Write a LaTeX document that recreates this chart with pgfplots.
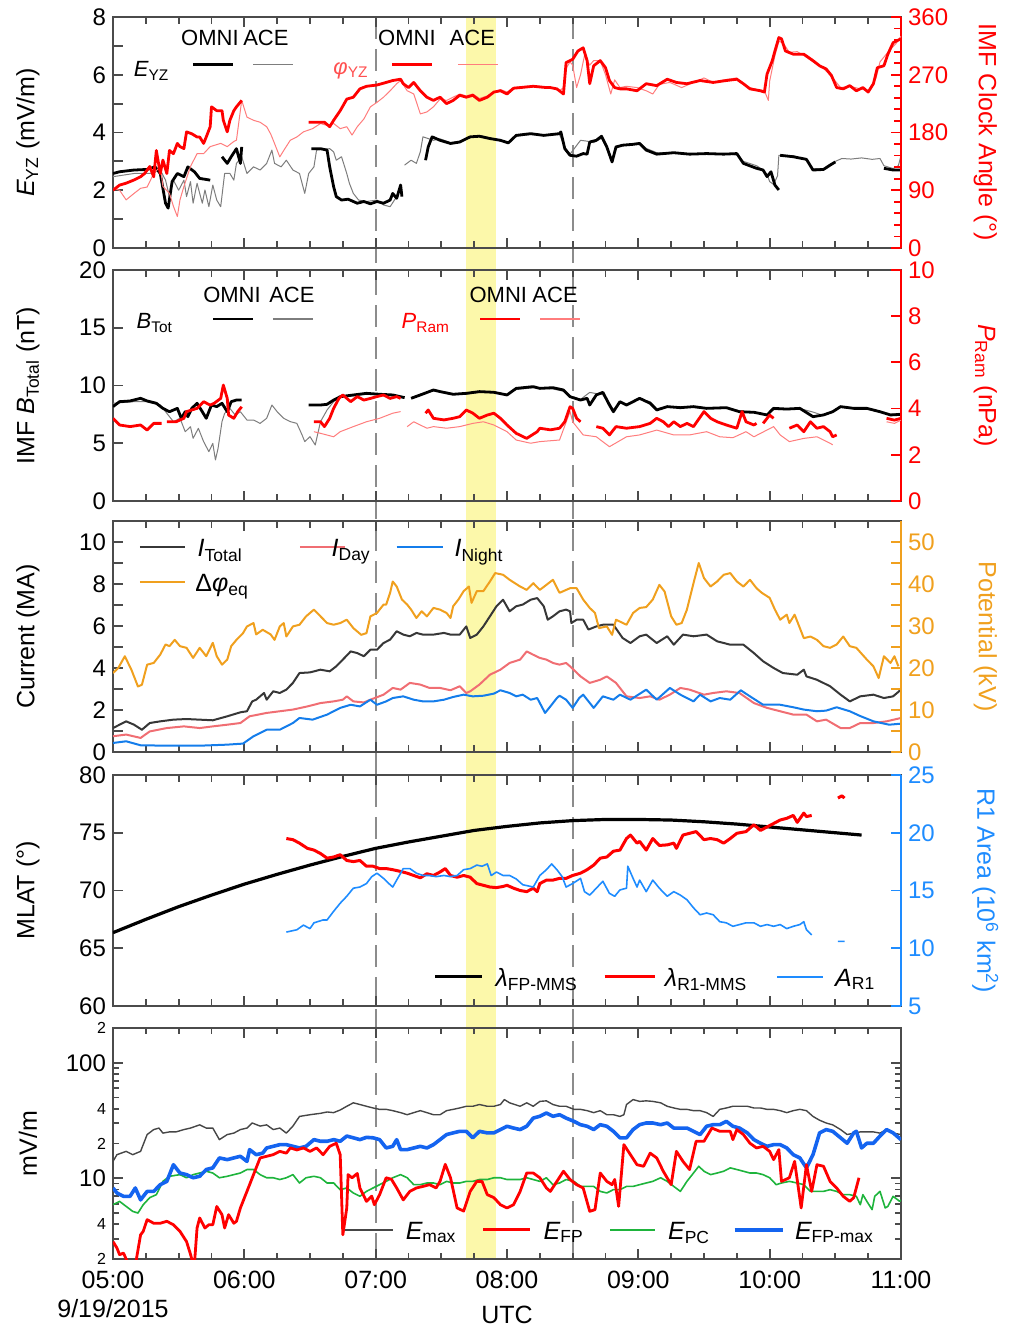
\documentclass[border=0pt]{standalone}
\usepackage{fontspec}
\setmainfont{Liberation Sans}
\usepackage{pgfplots}
\pgfplotsset{compat=1.18}
\usetikzlibrary{backgrounds}

\definecolor{framegray}{RGB}{75,75,75}
\definecolor{acegray}{RGB}{125,125,125}
\definecolor{acered}{RGB}{255,125,125}
\definecolor{phired}{RGB}{255,80,80}
\definecolor{itot}{RGB}{55,55,55}
\definecolor{iday}{RGB}{240,110,115}
\definecolor{inight}{RGB}{20,125,235}
\definecolor{potorange}{RGB}{240,160,30}
\definecolor{r1blue}{RGB}{30,140,255}
\definecolor{emax}{RGB}{70,70,70}
\definecolor{epc}{RGB}{30,180,60}
\definecolor{efpmax}{RGB}{20,100,240}
\definecolor{band}{RGB}{252,248,170}
\definecolor{dashgray}{RGB}{140,140,140}

\newcommand{\tfont}{\fontsize{12}{14}\selectfont}
\newcommand{\xfont}{\fontsize{12.5}{14}\selectfont}
\newcommand{\lfont}{\fontsize{12.5}{15}\selectfont}
\newcommand{\gfont}{\fontsize{11}{13}\selectfont}
\newcommand{\sfont}{\fontsize{8}{9}\selectfont}

\pgfplotsset{
  panel/.style={
    scale only axis, width=394pt, height=115.5pt,
    xmin=5, xmax=11,
    xtick={5,6,...,11}, minor xtick={5,5.25,...,11}, xticklabels={},
    tick align=inside, ytick pos=left,
    major tick length=5pt, minor tick length=3.5pt,
    axis line style={framegray, line width=0.9pt},
    tick style={framegray, line width=0.9pt},
    tick label style={font=\tfont},
    /pgf/number format/assume math mode=true,
    unbounded coords=jump,
    every axis plot/.append style={line join=round},
    every axis y label/.style={at={(rel axis cs:-0.108,0.5)}, rotate=90, anchor=center, font=\lfont},
  },
  twin/.style={
    scale only axis, width=394pt, height=115.5pt,
    xmin=5, xmax=11,
    axis x line=none, axis y line*=right,
    tick align=inside, major tick length=5pt, minor tick length=3.5pt,
    y axis line style={#1, line width=0.9pt},
    tick style={#1, line width=0.9pt},
    yticklabel style={#1, font=\tfont},
    /pgf/number format/assume math mode=true,
    unbounded coords=jump,
    every axis plot/.append style={line join=round},
    every axis y label/.style={at={(rel axis cs:1.107,0.5)}, rotate=-90, anchor=center, font=\lfont, text=#1},
  },
}

\begin{document}
\begin{tikzpicture}
\path[use as bounding box] (0,0) rectangle (512.5pt,664.5pt);

% ---------------- panel 1 ----------------
\begin{axis}[panel, at={(56.5pt,540.5pt)}, anchor=south west,
  ymin=0, ymax=8, ytick={0,...,8}, yticklabels={0,,2,,4,,6,,8},
  ylabel={{\itshape E}\textsubscript{YZ} (mV/m)}]
\addplot[acegray, line width=0.5pt] coordinates {
(5.00,2.47)(5.16,2.58)(5.28,2.58)(5.36,2.70)(5.40,2.35)(5.43,1.78)(5.46,2.35)(5.50,2.0)(5.54,2.35)(5.56,1.78)(5.59,2.30)(5.61,1.55)(5.64,2.24)(5.68,1.55)(5.70,2.01)(5.73,1.43)(5.76,2.18)(5.79,1.66)(5.82,1.43)(5.85,2.58)(5.89,2.58)(5.92,2.35)(5.94,2.93)(5.98,3.16)(6.02,2.58)(6.07,2.81)(6.12,2.70)(6.17,2.93)(6.21,3.39)(6.23,2.93)(6.28,2.81)(6.32,3.04)(6.37,2.70)(6.42,2.58)(6.46,1.89)(6.49,2.58)(6.53,2.81)(6.55,3.39)(6.65,3.44)(6.68,3.33)(6.70,3.04)(6.74,3.16)(6.78,2.58)(6.80,2.24)(6.83,1.89)(6.87,1.66)(6.93,1.61)(7.01,1.66)(7.06,1.49)(7.11,1.43)(7.16,1.78)(7.18,nan)
(7.22,2.87)(7.27,3.04)(7.31,2.93)(7.34,3.33)(7.36,3.85)(7.44,3.73)(7.49,3.78)(7.57,3.65)(7.64,3.70)(7.72,3.82)(7.79,3.90)(7.87,3.82)(7.95,3.70)(8.01,3.67)(8.07,3.87)(8.18,3.93)(8.28,3.93)(8.40,3.93)(8.44,3.50)(8.48,3.25)(8.53,3.55)(8.56,3.73)(8.61,3.70)(8.66,3.65)(8.72,3.80)(8.76,3.45)(8.80,3.05)(8.83,3.45)(8.88,3.56)(9.01,3.65)(9.06,3.45)(9.14,3.30)(9.27,3.28)(9.39,3.27)(9.52,3.25)(9.65,3.27)(9.75,3.22)(9.80,3.0)(9.90,2.85)(9.95,2.70)(9.98,2.55)(10.0,2.30)(10.03,2.20)(10.06,2.5)(10.07,3.21)(10.18,3.20)(10.28,3.05)(10.33,2.75)(10.41,2.75)(10.50,3.0)(10.55,3.10)(10.62,3.08)(10.70,3.12)(10.78,3.07)(10.84,3.10)(10.87,2.85)(10.94,2.75)(10.98,2.85)(11.0,3.2)};
\addplot[black, line width=1.4pt] coordinates {
(5.00,2.58)(5.05,2.64)(5.16,2.70)(5.26,2.72)(5.32,2.81)(5.36,2.58)(5.40,1.55)(5.42,1.38)(5.45,2.30)(5.49,2.58)(5.54,2.47)(5.57,2.81)(5.62,2.64)(5.66,2.41)(5.74,2.35)(5.75,nan)
(5.83,3.16)(5.87,2.93)(5.90,3.16)(5.94,3.44)(5.97,2.93)(5.98,3.50)(6.2,nan)
(6.51,3.44)(6.58,3.44)(6.63,3.39)(6.65,2.81)(6.68,2.12)(6.70,1.78)(6.74,1.66)(6.79,1.69)(6.86,1.55)(6.91,1.61)(6.96,1.53)(7.01,1.61)(7.06,1.55)(7.11,1.66)(7.13,1.89)(7.16,1.72)(7.19,2.18)(7.20,1.78)(7.3,nan)
(7.38,3.04)(7.40,3.50)(7.43,3.85)(7.49,3.73)(7.57,3.62)(7.64,3.67)(7.72,3.85)(7.79,3.87)(7.87,3.79)(7.95,3.73)(8.01,3.64)(8.07,3.90)(8.18,3.96)(8.28,3.90)(8.40,3.96)(8.41,4.02)(8.44,3.44)(8.48,3.21)(8.53,3.18)(8.58,3.27)(8.61,3.25)(8.63,3.67)(8.68,3.73)(8.72,3.87)(8.76,3.50)(8.80,2.98)(8.83,3.50)(8.88,3.56)(8.96,3.59)(9.01,3.62)(9.06,3.39)(9.14,3.25)(9.27,3.30)(9.39,3.25)(9.52,3.27)(9.65,3.25)(9.75,3.27)(9.80,2.93)(9.90,2.76)(9.95,2.70)(9.98,2.47)(10.01,2.64)(10.04,2.18)(10.07,2.01)(10.075,nan)
(10.08,3.21)(10.18,3.16)(10.28,3.07)(10.33,2.70)(10.41,2.72)(10.46,2.87)(10.50,2.98)(10.6,nan)
(10.87,2.76)(10.94,2.70)(11.00,2.70)};
\node[font=\gfont] at (rel axis cs:0.123,0.909) {OMNI};
\node[font=\gfont] at (rel axis cs:0.194,0.909) {ACE};
\node[font=\gfont] at (rel axis cs:0.049,0.767) {{\itshape E}\textsubscript{YZ}};
\draw[black, line width=1.4pt] (rel axis cs:0.1015,0.793) -- (rel axis cs:0.152,0.793);
\draw[acegray, line width=0.6pt] (rel axis cs:0.178,0.793) -- (rel axis cs:0.228,0.793);
\node[font=\gfont] at (rel axis cs:0.373,0.909) {OMNI};
\node[font=\gfont] at (rel axis cs:0.456,0.909) {ACE};
\node[font=\gfont, text=phired] at (rel axis cs:0.302,0.767) {{\itshape φ}\textsubscript{YZ}};
\draw[red, line width=1.4pt] (rel axis cs:0.354,0.793) -- (rel axis cs:0.405,0.793);
\draw[acered, line width=0.6pt] (rel axis cs:0.438,0.793) -- (rel axis cs:0.489,0.793);
\coordinate (T7) at (axis cs:7,8);
\coordinate (T85) at (axis cs:8.5,8);
\coordinate (TB) at (axis cs:7.69,8);
\end{axis}
\begin{axis}[twin=red, at={(56.5pt,540.5pt)}, anchor=south west,
  ymin=0, ymax=360, ytick={0,90,...,360}, minor ytick={0,18,...,360},
  ylabel={IMF Clock Angle (°)}]
\addplot[acered, line width=0.5pt] coordinates {
(5.00,93)(5.05,90)(5.10,75)(5.16,85)(5.21,93)(5.26,95)(5.31,116)(5.36,127)(5.38,96)(5.43,85)(5.46,65)(5.49,49)(5.51,75)(5.54,96)(5.59,127)(5.64,147)(5.69,147)(5.74,158)(5.82,163)(5.87,158)(5.92,166)(5.94,168)(5.98,230)(6.02,204)(6.07,199)(6.12,196)(6.17,189)(6.20,178)(6.22,168)(6.27,142)(6.30,152)(6.35,168)(6.40,173)(6.45,181)(6.52,186)(6.58,194)(6.63,191)(6.68,194)(6.73,186)(6.78,189)(6.82,176)(6.86,189)(6.91,201)(6.96,220)(7.01,227)(7.06,235)(7.11,245)(7.16,256)(7.19,261)(7.24,245)(7.29,240)(7.34,209)(7.39,212)(7.44,220)(7.49,232)(7.54,230)(7.59,235)(7.64,240)(7.69,237)(7.74,240)(7.79,233)(7.85,237)(7.90,243)(7.95,247)(8.00,243)(8.05,250)(8.15,252)(8.25,252)(8.33,250)(8.40,245)(8.43,250)(8.45,280)(8.48,290)(8.50,285)(8.53,250)(8.56,270)(8.59,300)(8.63,285)(8.66,292)(8.71,292)(8.75,270)(8.79,240)(8.82,262)(8.86,250)(8.91,252)(8.99,250)(9.06,245)(9.11,240)(9.16,255)(9.24,258)(9.33,250)(9.42,258)(9.50,265)(9.57,258)(9.65,262)(9.75,265)(9.82,252)(9.88,248)(9.96,245)(9.99,230)(10.00,260)(10.04,300)(10.07,322)(10.10,320)(10.15,305)(10.21,306)(10.26,300)(10.33,290)(10.41,280)(10.48,265)(10.54,250)(10.61,252)(10.69,248)(10.75,245)(10.81,265)(10.84,290)(10.88,300)(10.92,310)(10.96,318)(11.0,330)};
\addplot[red, line width=1.4pt] coordinates {
(5.00,90)(5.05,98)(5.10,101)(5.16,106)(5.21,111)(5.24,116)(5.28,127)(5.31,111)(5.33,152)(5.36,116)(5.38,137)(5.41,116)(5.43,152)(5.46,147)(5.49,163)(5.51,158)(5.54,155)(5.56,181)(5.60,178)(5.64,173)(5.66,173)(5.69,163)(5.71,173)(5.74,189)(5.75,220)(5.79,214)(5.83,214)(5.84,199)(5.87,181)(5.89,199)(5.92,214)(5.94,220)(5.98,230)(5.99,nan)
(6.49,196)(6.55,196)(6.61,196)(6.65,189)(6.68,199)(6.73,214)(6.78,232)(6.83,235)(6.88,248)(6.93,252)(7.01,254)(7.08,258)(7.13,261)(7.19,263)(7.21,256)(7.25,250)(7.29,258)(7.34,245)(7.39,235)(7.44,230)(7.49,235)(7.54,225)(7.59,230)(7.64,238)(7.69,235)(7.74,238)(7.79,230)(7.85,235)(7.90,243)(7.95,245)(8.00,240)(8.05,249)(8.10,250)(8.20,252)(8.30,250)(8.33,250)(8.38,248)(8.43,240)(8.45,289)(8.50,294)(8.54,307)(8.58,312)(8.61,292)(8.63,256)(8.66,284)(8.71,292)(8.75,281)(8.78,261)(8.82,250)(8.86,248)(8.91,248)(8.99,245)(9.06,256)(9.14,253)(9.22,263)(9.29,258)(9.37,256)(9.47,261)(9.57,258)(9.67,261)(9.75,263)(9.80,256)(9.85,248)(9.93,245)(9.96,243)(9.98,271)(10.02,292)(10.04,307)(10.07,328)(10.09,326)(10.12,307)(10.18,302)(10.26,302)(10.33,292)(10.38,284)(10.43,279)(10.47,269)(10.51,250)(10.56,248)(10.61,253)(10.66,245)(10.71,250)(10.75,243)(10.79,256)(10.82,281)(10.87,284)(10.90,302)(10.94,320)(11.00,326)};
\end{axis}

% ---------------- panel 2 ----------------
\begin{axis}[panel, at={(56.5pt,414pt)}, anchor=south west,
  ymin=0, ymax=20, ytick={0,5,...,20},
  ylabel={IMF {\itshape B}\textsubscript{Total} (nT)}]
\addplot[acegray, line width=0.5pt] coordinates {
(5.00,8.46)(5.16,8.60)(5.26,8.60)(5.36,8.31)(5.46,6.87)(5.51,7.16)(5.55,6.00)(5.59,6.43)(5.61,5.43)(5.65,6.29)(5.69,5.14)(5.73,4.27)(5.76,4.99)(5.78,3.55)(5.80,4.56)(5.83,6.87)(5.85,7.59)(5.89,8.02)(5.93,7.45)(5.97,7.73)(6.02,7.01)(6.07,7.01)(6.12,6.72)(6.17,7.16)(6.21,8.31)(6.25,7.73)(6.30,7.16)(6.35,6.87)(6.40,6.72)(6.44,5.71)(6.46,5.14)(6.50,5.57)(6.54,4.85)(6.58,6.87)(6.63,7.88)(6.68,8.60)(6.73,9.03)(6.83,9.10)(6.93,9.25)(7.03,9.2)(7.13,9.1)(7.22,8.9)(7.23,nan)
(7.27,8.95)(7.34,9.25)(7.44,9.55)(7.59,9.3)(7.69,9.25)(7.79,9.4)(7.90,9.45)(8.00,9.2)(8.07,9.65)(8.20,9.8)(8.35,9.7)(8.43,9.5)(8.48,9.1)(8.56,8.8)(8.63,9.4)(8.68,9.3)(8.73,9.2)(8.78,8.5)(8.81,7.9)(8.86,8.5)(8.91,8.4)(9.01,8.8)(9.09,8.6)(9.14,8.0)(9.22,8.1)(9.32,8.1)(9.42,8.1)(9.52,8.0)(9.67,8.1)(9.77,7.8)(9.88,7.7)(9.98,7.5)(10.03,7.9)(10.13,7.9)(10.23,8.0)(10.33,7.7)(10.41,7.4)(10.48,7.7)(10.54,8.1)(10.64,8.0)(10.74,7.95)(10.84,7.7)(10.92,7.5)(11.00,7.6)};
\addplot[black, line width=1.4pt] coordinates {
(5.00,8.17)(5.05,8.60)(5.13,8.66)(5.21,8.89)(5.26,8.66)(5.33,8.46)(5.38,8.02)(5.43,7.73)(5.49,8.02)(5.52,7.16)(5.55,7.73)(5.57,7.30)(5.60,8.02)(5.64,8.46)(5.68,7.73)(5.71,7.16)(5.75,8.31)(5.79,8.17)(5.83,8.46)(5.87,7.73)(5.90,8.60)(5.94,8.74)(5.98,8.74)(6.0,nan)
(6.49,8.31)(6.58,8.31)(6.63,8.37)(6.68,8.74)(6.73,9.03)(6.83,9.18)(6.93,9.32)(7.03,9.24)(7.13,9.18)(7.22,8.95)(7.23,nan)
(7.27,8.89)(7.34,9.18)(7.44,9.61)(7.49,9.47)(7.59,9.24)(7.69,9.32)(7.79,9.47)(7.90,9.41)(8.00,9.18)(8.07,9.75)(8.20,9.90)(8.25,9.75)(8.35,9.81)(8.43,9.61)(8.48,9.03)(8.56,8.74)(8.61,8.89)(8.63,8.31)(8.68,9.18)(8.73,9.41)(8.78,8.31)(8.81,7.73)(8.86,8.60)(8.91,8.31)(9.01,8.89)(9.09,8.46)(9.14,7.88)(9.22,8.17)(9.32,8.08)(9.42,8.17)(9.52,8.02)(9.67,8.08)(9.77,7.73)(9.88,7.68)(9.98,7.45)(10.03,8.02)(10.13,7.96)(10.23,8.02)(10.33,7.30)(10.41,7.45)(10.48,7.73)(10.54,8.17)(10.64,8.02)(10.74,8.02)(10.84,7.73)(10.92,7.45)(11.00,7.50)};
\node[font=\gfont] at (rel axis cs:0.151,0.892) {OMNI};
\node[font=\gfont] at (rel axis cs:0.227,0.892) {ACE};
\node[font=\gfont] at (rel axis cs:0.053,0.771) {{\itshape B}\textsubscript{Tot}};
\draw[black, line width=1.4pt] (rel axis cs:0.127,0.788) -- (rel axis cs:0.178,0.788);
\draw[acegray, line width=0.6pt] (rel axis cs:0.203,0.788) -- (rel axis cs:0.254,0.788);
\node[font=\gfont] at (rel axis cs:0.489,0.892) {OMNI};
\node[font=\gfont] at (rel axis cs:0.561,0.892) {ACE};
\node[font=\gfont, text=red] at (rel axis cs:0.397,0.771) {{\itshape P}\textsubscript{Ram}};
\draw[red, line width=1.4pt] (rel axis cs:0.466,0.788) -- (rel axis cs:0.516,0.788);
\draw[acered, line width=0.6pt] (rel axis cs:0.542,0.788) -- (rel axis cs:0.593,0.788);
\end{axis}
\begin{axis}[twin=red, at={(56.5pt,414pt)}, anchor=south west,
  ymin=0, ymax=10, ytick={0,2,...,10},
  ylabel={{\itshape P}\textsubscript{Ram} (nPa)}]
\addplot[acered, line width=0.5pt] coordinates {
(6.53,3.00)(6.58,2.93)(6.68,2.78)(6.73,3.00)(6.83,3.22)(6.93,3.43)(7.03,3.58)(7.13,3.80)(7.19,3.87)(7.20,nan)
(7.24,3.22)(7.29,3.43)(7.34,3.29)(7.39,3.15)(7.44,3.22)(7.54,3.15)(7.64,3.22)(7.74,3.36)(7.82,3.43)(7.90,3.29)(8.00,3.00)(8.07,2.64)(8.18,2.50)(8.25,2.57)(8.40,2.64)(8.48,3.87)(8.50,3.43)(8.58,2.86)(8.68,2.78)(8.78,2.35)(8.91,2.78)(9.01,2.86)(9.14,3.07)(9.27,2.86)(9.39,2.86)(9.52,3.00)(9.62,2.78)(9.72,2.74)(9.82,3.00)(9.88,2.78)(10.03,3.22)(10.08,2.86)(10.15,2.57)(10.26,2.71)(10.36,2.78)(10.46,2.50)(10.48,2.43)(10.49,nan)
(10.89,3.43)(10.95,3.36)(11.0,3.5)};
\addplot[red, line width=1.4pt] coordinates {
(5.00,3.58)(5.05,3.29)(5.13,3.22)(5.21,3.29)(5.26,3.07)(5.31,3.36)(5.37,3.36)(5.38,nan)
(5.41,3.43)(5.48,3.43)(5.54,3.58)(5.56,3.87)(5.64,4.01)(5.69,4.30)(5.74,4.15)(5.77,4.23)(5.82,4.44)(5.84,5.02)(5.87,4.44)(5.88,3.72)(5.92,3.58)(5.95,3.87)(5.98,4.08)(5.99,nan)
(6.53,3.43)(6.58,3.43)(6.61,3.22)(6.65,3.58)(6.68,4.01)(6.72,4.44)(6.75,4.59)(6.81,4.30)(6.86,4.52)(6.91,4.37)(6.96,4.44)(7.01,4.52)(7.06,4.59)(7.11,4.44)(7.16,4.52)(7.19,4.44)(7.20,nan)
(7.38,3.80)(7.40,3.94)(7.44,3.58)(7.52,3.51)(7.59,3.58)(7.64,3.65)(7.69,3.94)(7.74,3.80)(7.79,3.58)(7.85,3.72)(7.90,3.80)(7.95,3.58)(8.00,3.29)(8.07,2.93)(8.15,2.71)(8.23,3.00)(8.25,3.15)(8.33,3.08)(8.40,3.15)(8.44,3.43)(8.48,4.08)(8.50,4.01)(8.53,3.58)(8.56,3.43)(8.57,nan)
(8.68,3.22)(8.73,3.15)(8.78,2.86)(8.83,3.22)(8.91,3.15)(9.01,3.22)(9.09,3.36)(9.14,3.58)(9.19,3.43)(9.23,3.22)(9.27,3.43)(9.32,3.22)(9.37,3.36)(9.42,3.22)(9.50,3.87)(9.55,3.58)(9.60,3.43)(9.67,3.29)(9.75,3.15)(9.79,3.87)(9.82,3.43)(9.88,3.29)(9.90,3.36)(9.91,nan)
(9.95,3.36)(10.00,3.72)(10.03,3.58)(10.04,nan)
(10.15,3.15)(10.21,3.29)(10.26,3.00)(10.31,3.43)(10.36,3.15)(10.41,3.22)(10.46,3.00)(10.48,2.78)(10.51,2.86)(10.52,nan)
(10.89,3.58)(10.95,3.50)(11.0,3.58)};
\end{axis}

% ---------------- panel 3 ----------------
\begin{axis}[panel, at={(56.5pt,288.5pt)}, anchor=south west,
  ymin=0, ymax=11, ytick={0,...,10}, yticklabels={0,,2,,4,,6,,8,,10},
  ylabel={Current (MA)}]
\addplot[itot, line width=1pt] coordinates {
(5.00,1.14)(5.05,1.30)(5.10,1.46)(5.16,1.30)(5.22,1.06)(5.28,1.38)(5.36,1.46)(5.46,1.54)(5.56,1.57)(5.66,1.54)(5.76,1.51)(5.87,1.70)(5.97,1.89)(6.02,1.94)(6.06,2.41)(6.09,2.49)(6.15,2.81)(6.17,2.49)(6.22,2.89)(6.27,2.81)(6.32,2.97)(6.37,3.29)(6.42,3.76)(6.50,3.79)(6.58,3.92)(6.65,3.84)(6.70,4.08)(6.75,4.40)(6.81,4.79)(6.86,4.71)(6.91,4.56)(6.96,4.87)(7.01,4.87)(7.06,5.19)(7.11,5.35)(7.16,5.75)(7.21,5.59)(7.26,5.51)(7.31,5.67)(7.36,5.59)(7.44,5.59)(7.52,5.67)(7.57,5.59)(7.64,5.59)(7.69,5.98)(7.72,5.43)(7.77,5.59)(7.82,5.98)(7.87,6.46)(7.92,6.94)(7.97,7.25)(8.02,6.70)(8.07,6.94)(8.12,7.02)(8.18,7.25)(8.23,7.33)(8.28,6.94)(8.31,6.30)(8.35,6.46)(8.40,6.70)(8.45,6.78)(8.48,6.70)(8.49,6.14)(8.53,6.30)(8.58,6.30)(8.62,5.83)(8.68,5.98)(8.73,6.06)(8.81,6.06)(8.88,5.43)(8.94,5.19)(9.01,5.51)(9.06,5.59)(9.14,5.19)(9.22,5.51)(9.27,5.11)(9.34,5.59)(9.42,5.51)(9.52,5.59)(9.60,5.27)(9.70,5.11)(9.80,5.11)(9.88,4.71)(9.95,4.32)(10.03,4.00)(10.10,3.76)(10.21,3.68)(10.26,3.92)(10.28,3.60)(10.36,3.44)(10.46,3.13)(10.54,2.73)(10.61,2.41)(10.69,2.65)(10.79,2.73)(10.87,2.57)(10.94,2.65)(11.00,2.97)};
\addplot[iday, line width=1pt] coordinates {
(5.00,0.75)(5.10,0.83)(5.21,0.67)(5.28,0.98)(5.41,1.14)(5.54,1.22)(5.66,1.14)(5.76,1.22)(5.87,1.30)(5.97,1.38)(6.04,1.70)(6.17,1.86)(6.27,1.94)(6.37,2.02)(6.48,2.17)(6.58,2.33)(6.68,2.41)(6.75,2.49)(6.78,2.65)(6.83,2.41)(6.91,2.36)(6.96,2.49)(7.06,2.73)(7.13,3.05)(7.19,2.97)(7.26,3.29)(7.34,3.21)(7.41,3.05)(7.49,3.05)(7.57,2.94)(7.64,3.13)(7.69,2.81)(7.72,2.89)(7.79,3.21)(7.87,3.68)(7.95,3.92)(8.02,4.24)(8.10,4.40)(8.15,4.79)(8.20,4.63)(8.25,4.48)(8.30,4.40)(8.35,4.24)(8.40,4.16)(8.45,4.24)(8.48,4.08)(8.56,3.60)(8.63,3.29)(8.71,3.44)(8.76,3.60)(8.83,3.29)(8.91,2.65)(9.01,2.57)(9.09,2.65)(9.16,2.49)(9.24,2.73)(9.32,3.05)(9.39,2.97)(9.50,2.73)(9.57,2.81)(9.67,2.89)(9.77,2.81)(9.88,2.33)(9.98,2.10)(10.08,1.94)(10.18,1.78)(10.28,1.78)(10.36,1.46)(10.43,1.54)(10.54,1.14)(10.61,1.14)(10.69,1.38)(10.79,1.38)(10.89,1.46)(11.00,1.62)};
\addplot[inight, line width=1pt] coordinates {
(5.00,0.43)(5.10,0.51)(5.21,0.32)(5.41,0.30)(5.66,0.30)(5.87,0.35)(5.99,0.40)(6.07,0.75)(6.17,1.06)(6.27,1.06)(6.37,1.38)(6.42,1.62)(6.52,1.54)(6.63,1.78)(6.73,2.10)(6.81,2.25)(6.88,2.17)(6.96,2.49)(7.01,2.25)(7.08,2.41)(7.13,2.57)(7.21,2.65)(7.29,2.49)(7.36,2.41)(7.44,2.41)(7.52,2.49)(7.59,2.62)(7.67,2.73)(7.74,2.65)(7.82,2.68)(7.90,2.78)(7.95,2.94)(8.02,2.81)(8.07,2.65)(8.12,2.73)(8.18,2.49)(8.23,2.57)(8.29,1.86)(8.33,2.17)(8.38,2.57)(8.40,2.68)(8.45,2.49)(8.50,2.10)(8.55,2.57)(8.58,2.73)(8.66,2.10)(8.73,2.65)(8.81,2.49)(8.86,2.73)(8.94,2.49)(9.06,2.97)(9.14,2.49)(9.24,3.05)(9.32,2.73)(9.42,2.41)(9.47,2.73)(9.55,2.41)(9.62,2.57)(9.70,2.49)(9.78,2.94)(9.85,2.65)(9.95,2.25)(10.08,2.25)(10.18,2.13)(10.26,2.02)(10.36,1.94)(10.43,1.97)(10.51,2.13)(10.61,1.94)(10.69,1.71)(10.79,1.46)(10.91,1.30)(11.00,1.35)};
\draw[itot, line width=1pt] (rel axis cs:0.034,0.887) -- (rel axis cs:0.091,0.887);
\node[font=\lfont, anchor=base west, inner sep=0pt] at (rel axis cs:0.107,0.845) {{\itshape I}\textsubscript{Total}};
\draw[iday, line width=1pt] (rel axis cs:0.237,0.887) -- (rel axis cs:0.294,0.887);
\node[font=\lfont, anchor=base west, inner sep=0pt] at (rel axis cs:0.277,0.845) {{\itshape I}\textsubscript{Day}};
\draw[inight, line width=1pt] (rel axis cs:0.360,0.887) -- (rel axis cs:0.419,0.887);
\node[font=\lfont, anchor=base west, inner sep=0pt] at (rel axis cs:0.433,0.845) {{\itshape I}\textsubscript{Night}};
\draw[potorange, line width=1pt] (rel axis cs:0.034,0.735) -- (rel axis cs:0.091,0.735);
\node[font=\lfont, anchor=base west, inner sep=0pt] at (rel axis cs:0.104,0.693) {Δ{\itshape φ}\textsubscript{eq}};
\end{axis}
\begin{axis}[twin=potorange, at={(56.5pt,288.5pt)}, anchor=south west,
  ymin=0, ymax=55, ytick={0,5,...,50}, yticklabels={0,,10,,20,,30,,40,,50},
  ylabel={Potential (kV)}]
\addplot[potorange, line width=1pt] coordinates {
(5.00,18.8)(5.04,20.0)(5.09,22.8)(5.14,19.6)(5.19,15.6)(5.22,16.0)(5.26,20.8)(5.31,21.2)(5.36,23.2)(5.40,25.6)(5.43,25.2)(5.47,26.7)(5.51,25.2)(5.56,24.8)(5.61,22.4)(5.66,24.8)(5.71,22.8)(5.76,26.0)(5.79,22.8)(5.83,20.8)(5.87,22.0)(5.90,25.2)(5.94,26.7)(5.99,28.3)(6.02,29.9)(6.07,30.7)(6.09,28.0)(6.14,29.1)(6.20,28.0)(6.23,26.7)(6.27,29.9)(6.30,30.7)(6.32,27.5)(6.37,29.9)(6.42,30.3)(6.47,32.3)(6.53,33.9)(6.58,32.3)(6.63,30.7)(6.68,30.3)(6.73,30.7)(6.78,31.5)(6.83,29.5)(6.89,27.9)(6.93,28.3)(6.96,32.3)(7.01,33.1)(7.06,35.1)(7.08,35.1)(7.11,37.9)(7.13,40.6)(7.16,39.4)(7.20,36.3)(7.24,35.1)(7.27,33.9)(7.31,31.9)(7.35,33.5)(7.39,32.3)(7.44,34.3)(7.49,33.9)(7.54,33.1)(7.57,31.9)(7.59,34.7)(7.63,36.3)(7.67,38.3)(7.71,39.4)(7.73,35.5)(7.77,38.3)(7.82,38.3)(7.87,40.6)(7.91,42.6)(7.97,42.2)(8.02,41.0)(8.10,39.4)(8.15,38.6)(8.20,40.2)(8.25,38.6)(8.30,39.8)(8.35,41.0)(8.40,37.9)(8.48,39.0)(8.53,39.0)(8.58,36.3)(8.63,34.3)(8.67,33.1)(8.70,29.5)(8.76,29.9)(8.80,27.9)(8.83,31.5)(8.91,30.3)(8.96,33.1)(9.01,34.3)(9.06,34.5)(9.11,36.3)(9.16,39.8)(9.20,38.2)(9.25,32.3)(9.29,30.3)(9.33,30.7)(9.37,33.9)(9.42,40.2)(9.46,45.0)(9.50,41.4)(9.55,39.4)(9.60,40.6)(9.65,42.2)(9.70,42.6)(9.75,40.6)(9.80,39.4)(9.85,41.0)(9.90,39.0)(9.94,37.9)(10.00,36.7)(10.04,33.9)(10.08,31.5)(10.13,32.7)(10.15,30.7)(10.19,32.7)(10.26,27.1)(10.31,27.5)(10.36,26.7)(10.41,25.2)(10.46,24.8)(10.51,25.6)(10.56,27.5)(10.61,25.2)(10.66,24.8)(10.74,22.0)(10.79,20.4)(10.83,17.6)(10.87,22.8)(10.92,21.2)(10.95,22.8)(10.98,20.4)};
\end{axis}

% ---------------- panel 4 ----------------
\begin{axis}[panel, at={(56.5pt,161.5pt)}, anchor=south west,
  ymin=60, ymax=80, ytick={60,65,...,80},
  ylabel={MLAT (°)}]
\addplot[black, line width=1.6pt] coordinates {
(5.0,66.35)(5.25,67.5)(5.5,68.6)(5.75,69.6)(6.0,70.55)(6.25,71.4)(6.5,72.2)(6.75,72.95)(7.0,73.65)(7.25,74.2)(7.5,74.7)(7.75,75.2)(8.0,75.55)(8.25,75.85)(8.5,76.05)(8.75,76.15)(9.0,76.15)(9.25,76.1)(9.5,75.95)(9.75,75.75)(10.0,75.5)(10.25,75.25)(10.5,75.0)(10.7,74.8)};
\addplot[red, line width=1.5pt] coordinates {
(6.32,74.5)(6.37,74.4)(6.42,74.1)(6.48,73.65)(6.53,73.5)(6.58,73.2)(6.63,72.8)(6.68,72.9)(6.73,73.1)(6.78,72.6)(6.83,72.5)(6.88,72.6)(6.93,72.1)(6.98,72.1)(7.03,71.9)(7.08,71.9)(7.13,71.8)(7.19,71.65)(7.24,71.5)(7.29,71.3)(7.34,71.1)(7.39,71.45)(7.44,71.3)(7.49,71.6)(7.53,71.9)(7.57,71.3)(7.62,71.15)(7.67,71.3)(7.72,71.15)(7.77,70.6)(7.82,70.45)(7.87,70.3)(7.92,70.25)(7.97,70.35)(8.00,70.45)(8.05,70.2)(8.10,70.0)(8.15,69.9)(8.20,70.2)(8.23,69.9)(8.25,70.6)(8.30,70.9)(8.35,70.9)(8.40,71.05)(8.45,71.05)(8.50,71.3)(8.56,71.5)(8.61,71.8)(8.66,72.2)(8.71,72.8)(8.76,72.9)(8.81,73.4)(8.86,73.5)(8.91,74.5)(8.94,74.8)(8.99,74.1)(9.01,74.25)(9.06,73.5)(9.11,74.5)(9.16,73.9)(9.22,73.95)(9.27,74.1)(9.29,73.65)(9.34,74.8)(9.39,74.95)(9.44,75.1)(9.50,74.4)(9.55,74.5)(9.60,74.4)(9.65,74.1)(9.70,74.5)(9.75,74.95)(9.82,75.1)(9.88,75.7)(9.93,75.2)(9.98,75.5)(10.03,75.8)(10.08,76.1)(10.13,76.25)(10.18,76.5)(10.21,75.9)(10.26,76.7)(10.28,76.4)(10.32,76.5)(10.33,nan)
(10.52,78.0)(10.55,78.2)(10.57,78.0)};
\draw[black, line width=1.6pt] (rel axis cs:0.409,0.126) -- (rel axis cs:0.468,0.126);
\node[font=\lfont, anchor=base west, inner sep=0pt] at (rel axis cs:0.485,0.086) {{\itshape λ}\textsubscript{FP-MMS}};
\draw[red, line width=1.5pt] (rel axis cs:0.624,0.126) -- (rel axis cs:0.688,0.126);
\node[font=\lfont, anchor=base west, inner sep=0pt] at (rel axis cs:0.700,0.086) {{\itshape λ}\textsubscript{R1-MMS}};
\draw[r1blue, line width=0.8pt] (rel axis cs:0.843,0.126) -- (rel axis cs:0.901,0.126);
\node[font=\lfont, anchor=base west, inner sep=0pt] at (rel axis cs:0.916,0.086) {{\itshape A}\textsubscript{R1}};
\end{axis}
\begin{axis}[twin=r1blue, at={(56.5pt,161.5pt)}, anchor=south west,
  ymin=5, ymax=25, ytick={5,10,...,25},
  ylabel={R1 Area (10\textsuperscript{6} km\textsuperscript{2})}]
\addplot[r1blue, line width=0.8pt] coordinates {
(6.32,11.4)(6.40,11.6)(6.45,12.0)(6.50,11.7)(6.53,12.2)(6.60,12.45)(6.63,12.45)(6.68,13.2)(6.73,13.9)(6.78,14.5)(6.83,15.2)(6.88,15.3)(6.93,15.6)(6.97,16.2)(7.01,16.5)(7.06,16.05)(7.11,15.5)(7.13,15.3)(7.16,15.9)(7.21,16.9)(7.26,16.9)(7.31,16.5)(7.36,16.3)(7.41,16.3)(7.46,16.2)(7.52,16.3)(7.57,16.2)(7.62,16.3)(7.67,16.8)(7.72,16.9)(7.77,17.2)(7.81,17.1)(7.85,17.3)(7.88,16.3)(7.92,16.6)(7.97,16.3)(8.02,16.3)(8.07,16.0)(8.12,15.5)(8.20,15.3)(8.25,16.3)(8.30,16.8)(8.34,17.3)(8.38,16.8)(8.42,16.2)(8.45,15.3)(8.50,15.6)(8.56,16.05)(8.59,14.9)(8.63,14.6)(8.68,15.2)(8.73,15.8)(8.78,14.75)(8.82,14.5)(8.86,15.05)(8.91,15.2)(8.92,17.1)(8.96,16.05)(8.99,15.3)(9.01,15.9)(9.06,14.9)(9.11,15.9)(9.16,15.2)(9.22,14.5)(9.27,14.9)(9.32,14.6)(9.37,14.2)(9.42,13.5)(9.47,12.9)(9.52,13.05)(9.57,12.9)(9.62,12.3)(9.67,12.2)(9.72,11.9)(9.77,12.05)(9.82,12.2)(9.88,12.2)(9.93,11.9)(9.98,12.05)(10.03,11.9)(10.08,12.05)(10.13,11.7)(10.18,11.9)(10.23,12.05)(10.26,12.3)(10.28,11.6)(10.32,11.15)(10.33,nan)
(10.52,10.6)(10.57,10.6)};
\end{axis}

% ---------------- panel 5 ----------------
\begin{axis}[panel, at={(56.5pt,35pt)}, anchor=south west,
  ymode=log, ymin=2, ymax=200, ytick pos=both,
  ytick={10,100}, log ticks with fixed point,
  minor ytick={3,5,6,7,8,9,30,50,60,70,80,90},
  extra y ticks={2,4,20,40,200}, extra y tick labels={2,4,2,4,2},
  extra y tick style={yticklabel style={font=\sfont}, major tick length=3pt},
  minor tick length=3pt,
  xticklabels={05:00,06:00,07:00,08:00,09:00,10:00,11:00},
  xticklabel style={font=\xfont, yshift=-2.5pt},
  xlabel={UTC},
  every axis x label/.style={at={(rel axis cs:0.5,0)}, anchor=center, yshift=-28pt, font=\xfont},
  ylabel={mV/m}]
\addplot[emax, line width=0.7pt] coordinates {
(5.00,14.0)(5.03,16.0)(5.10,17.1)(5.15,16.0)(5.21,17.1)(5.26,23.9)(5.31,26.4)(5.35,27.2)(5.38,24.6)(5.43,25.2)(5.48,25.2)(5.54,26.4)(5.59,27.2)(5.66,29.0)(5.71,27.2)(5.76,27.2)(5.81,21.6)(5.87,23.9)(5.92,24.6)(5.97,26.4)(6.02,27.2)(6.06,30.1)(6.12,28.3)(6.17,29.0)(6.22,26.4)(6.27,27.2)(6.32,24.6)(6.37,28.3)(6.42,34.3)(6.50,35.5)(6.58,36.5)(6.63,37.5)(6.68,37.0)(6.73,39.0)(6.78,42.0)(6.83,45.0)(6.88,43.5)(6.93,42.0)(6.98,40.6)(7.03,39.5)(7.08,39.5)(7.13,38.5)(7.19,37.0)(7.24,35.5)(7.29,37.0)(7.34,38.5)(7.39,37.0)(7.44,35.5)(7.49,35.5)(7.54,38.5)(7.59,39.5)(7.64,40.6)(7.69,42.0)(7.74,42.0)(7.79,43.5)(7.85,42.0)(7.90,42.0)(7.95,43.5)(7.98,48.0)(8.02,45.0)(8.10,42.0)(8.15,45.0)(8.20,42.0)(8.25,46.3)(8.30,46.8)(8.35,43.5)(8.40,42.0)(8.45,42.0)(8.51,39.5)(8.56,39.5)(8.61,38.5)(8.66,37.0)(8.71,38.5)(8.76,35.5)(8.81,35.5)(8.86,34.3)(8.89,35.5)(8.91,43.5)(8.96,48.0)(9.01,46.3)(9.06,46.8)(9.11,46.3)(9.17,45.0)(9.22,42.0)(9.27,40.6)(9.32,39.5)(9.37,39.5)(9.42,38.5)(9.47,38.5)(9.52,37.0)(9.57,34.3)(9.62,39.5)(9.67,40.6)(9.72,42.0)(9.77,42.0)(9.83,42.0)(9.88,40.6)(9.93,40.6)(9.98,39.5)(10.03,39.5)(10.08,38.5)(10.13,37.0)(10.18,38.5)(10.23,39.5)(10.28,38.5)(10.33,34.3)(10.38,31.8)(10.43,30.1)(10.48,29.0)(10.54,26.4)(10.59,23.9)(10.64,24.6)(10.69,25.2)(10.74,25.2)(10.79,25.2)(10.84,24.6)(10.89,26.4)(10.94,24.6)(11.00,23.9)};
\addplot[epc, line width=0.8pt] coordinates {
(5.00,5.9)(5.05,6.31)(5.10,5.71)(5.15,5.17)(5.19,5.0)(5.23,5.9)(5.28,6.8)(5.33,7.21)(5.38,9.4)(5.43,10.4)(5.51,10.75)(5.56,10.1)(5.61,10.75)(5.66,11.1)(5.71,11.5)(5.76,11.1)(5.81,10.1)(5.87,10.4)(5.92,10.75)(5.97,11.1)(6.02,11.9)(6.07,11.9)(6.12,10.75)(6.17,10.1)(6.22,10.1)(6.27,9.75)(6.32,10.1)(6.37,10.75)(6.42,9.1)(6.47,10.1)(6.53,10.4)(6.58,10.1)(6.63,9.1)(6.68,9.1)(6.73,7.97)(6.78,8.24)(6.83,7.46)(6.88,6.98)(6.93,7.7)(6.98,8.24)(7.03,8.8)(7.08,9.4)(7.13,10.1)(7.19,10.75)(7.24,10.1)(7.29,8.8)(7.34,8.8)(7.39,9.1)(7.44,9.1)(7.49,8.8)(7.54,9.4)(7.59,9.1)(7.64,9.1)(7.69,9.4)(7.74,9.4)(7.79,9.75)(7.85,9.75)(7.90,10.1)(7.95,10.1)(8.00,9.75)(8.10,9.75)(8.15,10.1)(8.20,9.75)(8.25,9.4)(8.30,10.1)(8.35,8.8)(8.40,9.1)(8.45,9.75)(8.51,9.4)(8.56,8.5)(8.61,8.5)(8.66,8.5)(8.71,7.7)(8.76,7.46)(8.81,7.97)(8.86,7.97)(8.91,8.5)(8.96,8.5)(9.01,8.8)(9.06,9.1)(9.11,9.4)(9.17,10.1)(9.22,9.4)(9.27,8.5)(9.32,7.7)(9.37,9.4)(9.42,11.1)(9.46,12.7)(9.50,11.5)(9.55,10.75)(9.60,11.1)(9.65,11.5)(9.70,12.3)(9.75,11.9)(9.80,11.5)(9.85,11.1)(9.90,11.1)(9.95,10.75)(10.00,10.1)(10.05,8.8)(10.09,9.1)(10.15,9.4)(10.21,9.1)(10.26,8.8)(10.31,7.7)(10.36,7.7)(10.41,7.7)(10.46,7.97)(10.51,7.7)(10.56,7.21)(10.61,7.21)(10.66,6.98)(10.69,5.9)(10.71,7.21)(10.74,6.31)(10.78,5.35)(10.80,6.98)(10.84,7.7)(10.88,5.53)(10.90,5.71)(10.94,6.98)(10.99,6.31)(11.00,6.5)};
\addplot[efpmax, line width=1.8pt] coordinates {
(5.00,8.24)(5.03,7.46)(5.08,6.98)(5.13,6.98)(5.17,8.24)(5.21,6.5)(5.26,7.7)(5.31,7.7)(5.36,8.8)(5.41,9.4)(5.46,13.1)(5.51,11.1)(5.56,10.75)(5.61,10.1)(5.66,10.4)(5.71,11.9)(5.76,12.3)(5.81,15.0)(5.87,14.5)(5.92,15.0)(5.97,15.5)(6.02,14.0)(6.04,17.7)(6.09,16.0)(6.14,16.5)(6.17,18.3)(6.22,18.9)(6.27,19.55)(6.32,19.55)(6.37,18.9)(6.42,18.3)(6.47,18.9)(6.53,21.6)(6.58,20.9)(6.63,20.9)(6.68,21.6)(6.73,20.9)(6.78,23.2)(6.83,22.4)(6.88,21.6)(6.93,22.6)(6.98,22.4)(7.03,21.6)(7.08,18.3)(7.13,18.9)(7.16,21.6)(7.19,17.7)(7.24,17.7)(7.29,18.3)(7.34,18.9)(7.39,18.3)(7.44,19.55)(7.49,21.6)(7.54,23.9)(7.59,24.7)(7.64,25.5)(7.69,25.5)(7.74,22.4)(7.79,25.5)(7.85,24.7)(7.90,24.7)(7.95,26.4)(8.00,28.2)(8.05,27.2)(8.10,26.4)(8.15,28.2)(8.20,33.2)(8.25,34.4)(8.30,36.7)(8.35,34.4)(8.40,35.5)(8.45,33.2)(8.51,31.1)(8.56,29.1)(8.61,28.2)(8.66,26.4)(8.71,29.1)(8.76,28.2)(8.81,25.5)(8.86,22.4)(8.91,22.4)(8.96,26.4)(9.01,29.1)(9.06,30.1)(9.11,30.1)(9.17,29.1)(9.22,30.1)(9.27,27.2)(9.32,27.2)(9.37,27.2)(9.42,25.5)(9.47,23.9)(9.52,28.2)(9.57,29.1)(9.62,29.1)(9.67,31.1)(9.72,28.2)(9.77,27.2)(9.83,24.7)(9.88,21.6)(9.93,20.1)(9.98,18.9)(10.03,19.55)(10.08,19.55)(10.13,18.3)(10.18,16.0)(10.23,15.0)(10.28,12.3)(10.33,16.0)(10.38,24.7)(10.43,26.4)(10.48,25.5)(10.54,22.4)(10.59,20.1)(10.64,24.7)(10.66,25.5)(10.70,18.3)(10.74,20.1)(10.79,20.1)(10.84,23.2)(10.89,26.4)(10.94,24.7)(11.00,21.6)};
\addplot[red, line width=1.4pt] coordinates {
(5.00,2.83)(5.03,2.49)(5.05,2.18)(5.08,2.25)(5.10,2.00)(5.13,1.7)(5.17,1.7)(5.18,2.05)(5.21,3.24)(5.23,3.47)(5.26,4.38)(5.31,4.08)(5.36,4.08)(5.41,4.24)(5.46,3.96)(5.51,3.47)(5.56,2.83)(5.59,2.2)(5.61,1.8)(5.62,1.8)(5.64,3.71)(5.66,4.53)(5.70,3.71)(5.73,3.96)(5.76,3.96)(5.79,5.7)(5.83,4.84)(5.85,3.71)(5.88,4.84)(5.92,4.08)(5.94,4.24)(5.97,5.53)(6.02,7.7)(6.07,10.75)(6.12,15.0)(6.17,15.5)(6.22,16.0)(6.27,17.1)(6.32,16.5)(6.35,18.3)(6.40,17.6)(6.45,18.3)(6.50,17.1)(6.55,18.3)(6.60,16.0)(6.65,18.9)(6.70,20.1)(6.73,16.0)(6.75,3.24)(6.78,5.53)(6.79,10.75)(6.82,10.1)(6.86,11.0)(6.88,8.24)(6.93,6.31)(6.97,7.0)(6.99,5.9)(7.03,7.21)(7.08,10.1)(7.12,9.8)(7.16,8.24)(7.21,6.5)(7.26,7.7)(7.31,8.24)(7.36,8.5)(7.41,8.8)(7.46,8.24)(7.49,9.4)(7.53,13.2)(7.57,10.1)(7.62,5.53)(7.67,5.2)(7.72,7.7)(7.77,9.4)(7.81,9.4)(7.85,7.21)(7.90,6.8)(7.95,5.9)(8.00,5.53)(8.05,5.9)(8.10,7.7)(8.15,11.1)(8.20,11.1)(8.25,10.1)(8.30,8.24)(8.33,7.7)(8.38,9.4)(8.43,11.5)(8.48,9.75)(8.53,8.8)(8.58,8.24)(8.63,5.17)(8.67,5.35)(8.71,11.1)(8.76,9.4)(8.80,8.8)(8.82,9.75)(8.85,5.71)(8.89,19.55)(8.94,16.0)(8.99,13.1)(9.04,12.7)(9.09,16.5)(9.14,15.0)(9.19,11.5)(9.25,8.8)(9.29,17.1)(9.34,14.0)(9.39,11.9)(9.44,20.9)(9.50,20.9)(9.56,27.2)(9.62,25.5)(9.70,25.5)(9.72,21.6)(9.75,26.4)(9.80,23.9)(9.85,20.1)(9.90,18.3)(9.95,18.9)(10.00,17.1)(10.03,14.5)(10.07,17.7)(10.09,9.4)(10.15,10.1)(10.19,14.0)(10.24,5.53)(10.28,13.1)(10.32,7.7)(10.36,13.1)(10.41,12.7)(10.46,9.4)(10.51,8.24)(10.56,6.98)(10.61,6.31)(10.64,6.8)(10.68,10.1)};
\draw[emax, line width=0.7pt] (rel axis cs:0.294,0.126) -- (rel axis cs:0.355,0.126);
\node[font=\lfont, anchor=base west, inner sep=0pt] at (rel axis cs:0.371,0.086) {{\itshape E}\textsubscript{max}};
\draw[red, line width=1.4pt] (rel axis cs:0.470,0.126) -- (rel axis cs:0.529,0.126);
\node[font=\lfont, anchor=base west, inner sep=0pt] at (rel axis cs:0.546,0.086) {{\itshape E}\textsubscript{FP}};
\draw[epc, line width=0.8pt] (rel axis cs:0.631,0.126) -- (rel axis cs:0.688,0.126);
\node[font=\lfont, anchor=base west, inner sep=0pt] at (rel axis cs:0.704,0.086) {{\itshape E}\textsubscript{PC}};
\draw[efpmax, line width=1.8pt] (rel axis cs:0.789,0.126) -- (rel axis cs:0.850,0.126);
\node[font=\lfont, anchor=base west, inner sep=0pt] at (rel axis cs:0.865,0.086) {{\itshape E}\textsubscript{FP-max}};
\coordinate (BL) at (rel axis cs:0,0);
\coordinate (B7) at (axis cs:7,2);
\coordinate (B85) at (axis cs:8.5,2);
\coordinate (BB) at (axis cs:7.92,2);
\end{axis}

\node[font=\xfont] at ([yshift=-25pt]BL) {9/19/2015};

\begin{scope}[on background layer]
\fill[band] (TB) rectangle (BB);
\draw[dashgray, line width=1pt, dash pattern=on 11pt off 5pt] (T7) -- (B7);
\draw[dashgray, line width=1pt, dash pattern=on 11pt off 5pt] (T85) -- (B85);
\end{scope}
\end{tikzpicture}
\end{document}
